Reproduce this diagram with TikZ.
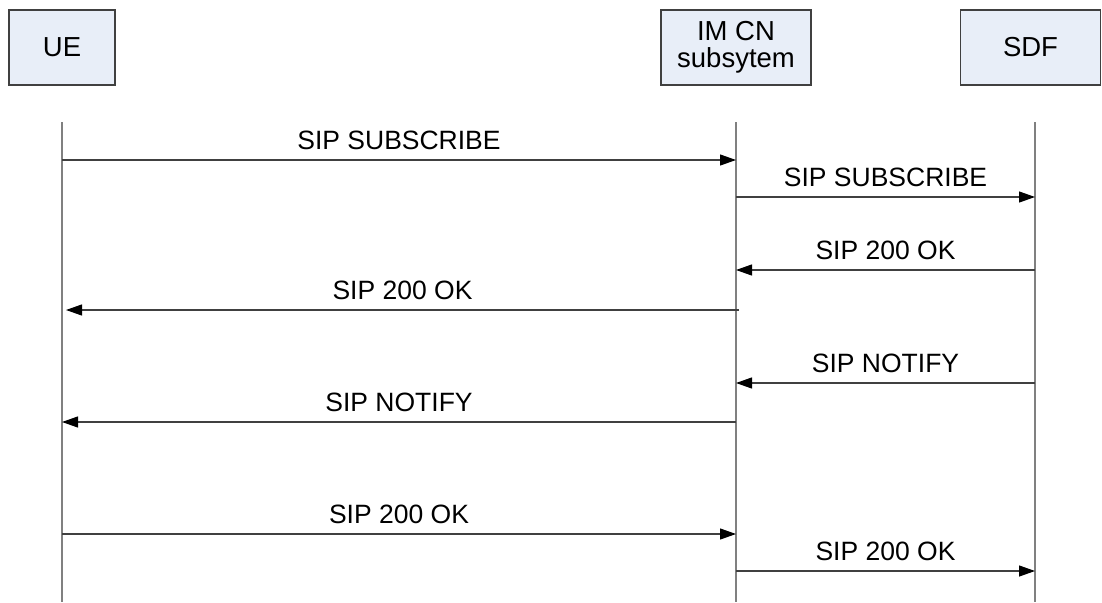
\documentclass[tikz,border=0pt]{standalone}
\usepackage{fontspec}
\setmainfont{Liberation Sans}
\usetikzlibrary{arrows.meta}
\usetikzlibrary{positioning}
\definecolor{boxfill}{HTML}{E8EEF8}
\definecolor{boxline}{HTML}{404040}
\definecolor{lifegray}{HTML}{808080}
\tikzset {
  % participant box at the top
  actor/.style = {
    draw = boxline,
    fill = boxfill,
    line width = 1.3pt,
    minimum height = 75pt,
    inner sep = 0,
    align = center,
    font = \fontsize{27.5}{27}\selectfont
  },
  % vertical life line
  life/.style = {
    draw = lifegray,
    line width = 1.5pt
  },
  % message arrow
  msg/.style = {
    draw = boxline,
    line width = 1.2pt,
    -{Triangle[length=16pt, width=11pt, color=black]}
  },
  % message text
  lbl/.style = {
    anchor = base,
    yshift = 11pt,
    inner sep = 0,
    font = \fontsize{26.5}{28}\selectfont
  }
}
\begin{document}
\begin{tikzpicture}[x=1pt, y=-1pt]
    \useasboundingbox (0,0) rectangle (1102,602);

    \node[actor, minimum width=106pt] (ue) at (62,47.5) {UE};
    \node[actor, minimum width=150pt] (ims) at (736,47.5) {IM CN\\subsytem};
    \node[actor, minimum width=140pt] (sdf) at (1030.5,47.5) {SDF};

    \coordinate (ue-top) at (62,122);
    \coordinate (ims-top) at (736,122);
    \coordinate (sdf-top) at (1035,122);
    \coordinate (ue-bot) at (62,602);
    \coordinate (ims-bot) at (736,602);
    \coordinate (sdf-bot) at (1035,602);

    \draw[life] (ue-top) -- (ue-bot);
    \draw[life] (ims-top) -- (ims-bot);
    \draw[life] (sdf-top) -- (sdf-bot);

    \draw[msg] (ue-top |- 0,160) -- node[lbl] {SIP SUBSCRIBE} (ims-top |- 0,160);
    \draw[msg] (ims-top |- 0,197) -- node[lbl] {SIP SUBSCRIBE} (sdf-top |- 0,197);
    \draw[msg] (sdf-top |- 0,270) -- node[lbl] {SIP 200 OK} (ims-top |- 0,270);
    \draw[msg] ([xshift=3pt]ims-top |- 0,310) -- node[lbl] {SIP 200 OK} ([xshift=4pt]ue-top |- 0,310);
    \draw[msg] (sdf-top |- 0,383) -- node[lbl] {SIP NOTIFY} (ims-top |- 0,383);
    \draw[msg] (ims-top |- 0,422) -- node[lbl] {SIP NOTIFY} (ue-top |- 0,422);
    \draw[msg] (ue-top |- 0,534) -- node[lbl] {SIP 200 OK} (ims-top |- 0,534);
    \draw[msg] (ims-top |- 0,571) -- node[lbl] {SIP 200 OK} (sdf-top |- 0,571);
\end{tikzpicture}
\end{document}
